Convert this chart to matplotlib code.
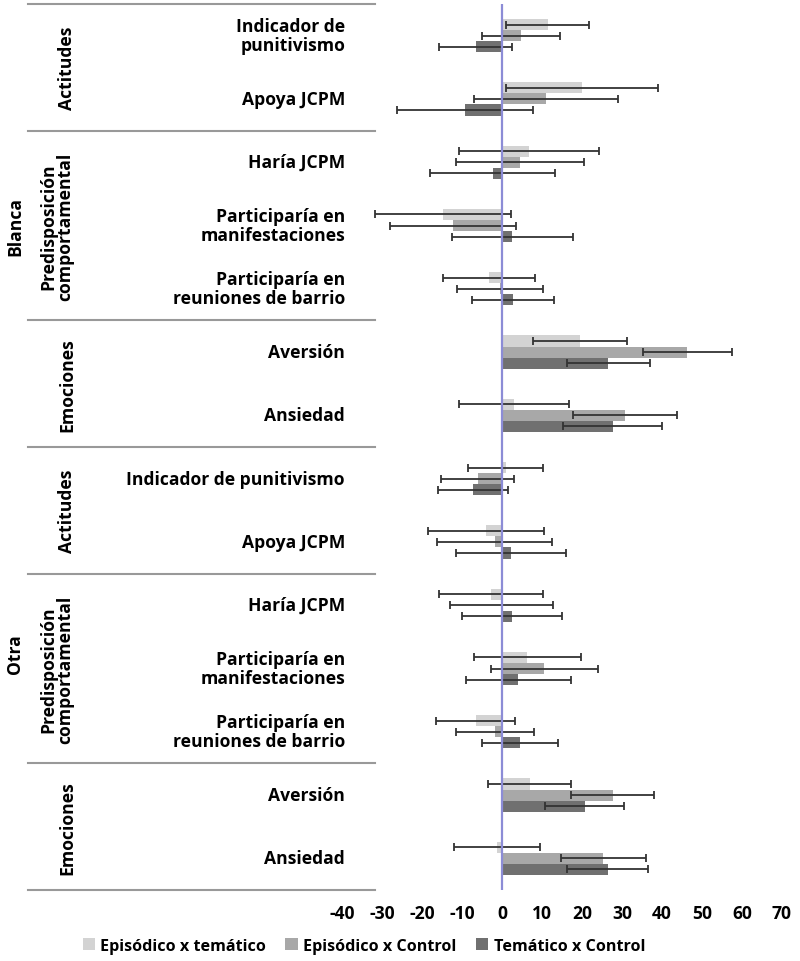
import numpy as np
import matplotlib
matplotlib.use("Agg")
import matplotlib.pyplot as plt
from matplotlib.transforms import blended_transform_factory
from matplotlib.lines import Line2D

plt.rcParams['font.family'] = ['Open Sans', 'DejaVu Sans']
plt.rcParams['font.weight'] = 'bold'

categories = ["Indicador de\npunitivismo", "Apoya JCPM", "Haría JCPM",
              "Participaría en\nmanifestaciones", "Participaría en\nreuniones de barrio",
              "Aversión", "Ansiedad",
              "Indicador de punitivismo", "Apoya JCPM", "Haría JCPM",
              "Participaría en\nmanifestaciones", "Participaría en\nreuniones de barrio",
              "Aversión", "Ansiedad"]

subgroups = ["Actitudes", "Predisposición\ncomportamental", "Emociones",
             "Actitudes", "Predisposición\ncomportamental", "Emociones"]
subgroup_span = [(0, 1), (2, 4), (5, 6), (7, 8), (9, 11), (12, 13)]
groups = ["Blanca", "Otra"]

series = ["Episódico x temático", "Episódico x Control", "Temático x Control"]

ep_tem = [11.4, 19.9, 6.7, -14.8, -3.3, 19.5, 3.0, 0.9, -4.0, -2.8, 6.3, -6.6, 6.9, -1.2]
ep_tem_err = [10.3, 19.0, 17.5, 17.0, 11.5, 11.7, 13.8, 9.3, 14.6, 13.0, 13.4, 9.8, 10.4, 10.8]
ep_ctrl = [4.7, 11.1, 4.4, -12.3, -0.5, 46.3, 30.8, -6.1, -1.8, -0.2, 10.6, -1.8, 27.7, 25.3]
ep_ctrl_err = [9.8, 18.0, 16.0, 15.7, 10.7, 11.1, 13.0, 9.2, 14.4, 12.9, 13.3, 9.8, 10.4, 10.6]
tem_ctrl = [-6.6, -9.2, -2.3, 2.6, 2.8, 26.6, 27.7, -7.2, 2.2, 2.6, 4.1, 4.4, 20.7, 26.4]
tem_ctrl_err = [9.1, 17.0, 15.6, 15.2, 10.3, 10.4, 12.4, 8.7, 13.8, 12.5, 13.1, 9.5, 9.9, 10.2]

xticks = [-40, -30, -20, -10, 0, 10, 20, 30, 40, 50, 60, 70]

colors = ['#d3d3d3', '#a8a8a8', '#707070']
values = [ep_tem, ep_ctrl, tem_ctrl]
errors = [ep_tem_err, ep_ctrl_err, tem_ctrl_err]

FS = 12.6
W, H = 800, 962
fig = plt.figure(figsize=(W / 100, H / 100), dpi=100)
ax = fig.add_axes([342 / W, 1 - 891 / H, 440 / W, 886 / H])

y = np.arange(len(categories))
bh = 0.175
handles = []
for i in range(3):
    b = ax.barh(y + (i - 1) * bh, values[i], height=bh, color=colors[i], zorder=2)
    ax.errorbar(values[i], y + (i - 1) * bh, xerr=errors[i], fmt='none',
                ecolor='#333333', elinewidth=1.3, capsize=3, capthick=1.3, zorder=3)
    handles.append(b)

ax.axvline(0, color='#8c8cd6', lw=1.6, zorder=4)
ax.set_ylim(13.5, -0.5)
ax.set_xlim(-40, 70)
ax.set_xticks(xticks)
ax.set_xticklabels([str(t) for t in xticks], fontsize=FS, fontweight='bold')
ax.tick_params(axis='x', length=0, pad=10)
ax.set_yticks([])
for s in ax.spines.values():
    s.set_visible(False)

tr = blended_transform_factory(fig.transFigure, ax.transData)

# category labels
for yi, lab in zip(y, categories):
    fig.text(345 / W, yi, lab, transform=tr, ha='right', va='center',
             fontsize=FS, fontweight='bold', linespacing=1.1)

# separators
for b in [-0.5, 1.5, 4.5, 6.5, 8.5, 11.5, 13.5]:
    fig.add_artist(Line2D([28 / W, 375 / W], [b, b], transform=tr,
                          color='#999999', lw=1.5))

# sub group labels
for lab, (a, c) in zip(subgroups, subgroup_span):
    xpos = 57 / W if '\n' in lab else 67 / W
    fig.text(xpos, (a + c) / 2, lab, transform=tr, rotation=90, ha='center',
             va='center', fontsize=FS, fontweight='bold', linespacing=0.9)

# main group labels
fig.text(15 / W, 3.0, groups[0], transform=tr, rotation=90, ha='center',
         va='center', fontsize=FS, fontweight='bold')
fig.text(15 / W, 9.75, groups[1], transform=tr, rotation=90, ha='center',
         va='center', fontsize=FS, fontweight='bold')

fig.legend(handles, series, loc='center left', bbox_to_anchor=(68 / W, 1 - 947 / H),
           ncol=3, frameon=False, handlelength=0.75, handleheight=0.75,
           handletextpad=0.35, columnspacing=1.2, prop={'weight': 'bold', 'size': 11.6})

fig.savefig("out.png", dpi=100)
